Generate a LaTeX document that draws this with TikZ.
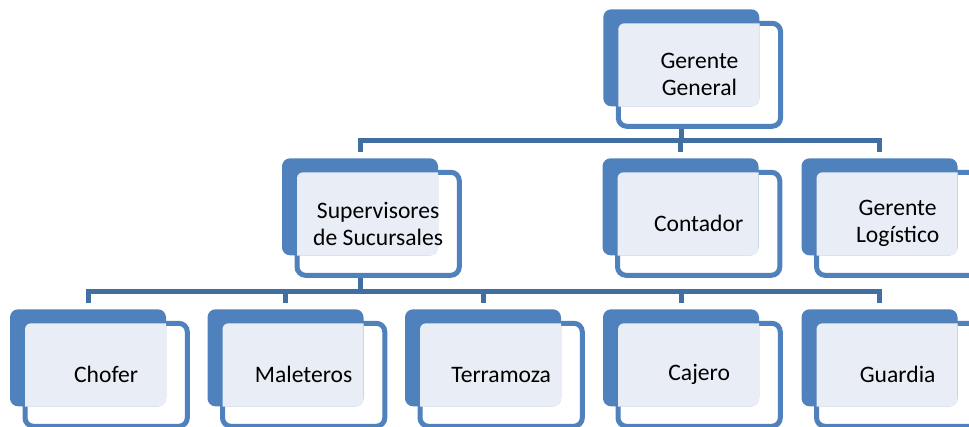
\documentclass[tikz,border=0pt]{standalone}
\usepackage{fontspec}
\setmainfont{Carlito}
\definecolor{boxblue}{RGB}{79,129,189}
\definecolor{busblue}{RGB}{66,111,162}
\definecolor{panelfill}{RGB}{233,238,246}
\tikzset{
  framebox/.style={draw=boxblue, line width=5pt, fill=white, rounded corners=8.5pt,
    minimum width=162.3pt, minimum height=103pt, inner sep=0pt, rectangle},
  backbox/.style={fill=boxblue, rounded corners=8pt, minimum width=156pt,
    minimum height=97pt, inner sep=0pt, rectangle},
  boxtext/.style={align=center, inner sep=0pt, font=\fontsize{23.6}{27}\selectfont},
  bus/.style={draw=busblue, line width=5pt}
}
\newcommand\orgbox[4]{%
  \node[framebox] (#1f) at (#2+96.15,#3+65.5) {};
  \node[backbox] (#1b) at (#2+78,#3+48.5) {};
  \begin{scope}
    \clip[rounded corners=8pt] (#1b.south west) rectangle (#1b.north east);
    \fill[panelfill, rounded corners=6pt] ([xshift=2.5pt,yshift=-2.5pt]#1f.north west)
      rectangle ([xshift=-2.5pt,yshift=2.5pt]#1f.south east);
  \end{scope}
  \node[boxtext] (#1t) at (#1f.center) {#4};
}
\begin{document}
\begin{tikzpicture}[x=1pt,y=-1pt]
\useasboundingbox (0,0) rectangle (969,426);
\coordinate (bus1) at (0,140.5);
\coordinate (bus2) at (0,291.5);
\begin{scope}
\orgbox{gg}{603.3}{9.3}{Gerente\\General}
\orgbox{sup}{282}{158.3}{Supervisores\\de Sucursales}
\orgbox{con}{602.5}{158.3}{Contador}
\orgbox{log}{801.5}{158.3}{Gerente\\Logístico}
\orgbox{cho}{10}{309.3}{Chofer}
\orgbox{mal}{207.5}{309.3}{Maleteros}
\orgbox{ter}{405}{309.3}{Terramoza}
\orgbox{caj}{603}{309.3}{Cajero}
\orgbox{gua}{801.5}{309.3}{Guardia}
\end{scope}
% connectors level 0 -> 1
\draw[bus] (ggb.center |- ggf.south) -- (ggb.center |- bus1);
\draw[bus] ([yshift=6pt]supb.north) -- (supb.north |- bus1) -- (logb.north |- bus1) -- ([yshift=6pt]logb.north);
\draw[bus] ([yshift=6pt]conb.north) -- (conb.north |- bus1);
% connectors level 1 -> 2
\draw[bus] (supb.center |- supf.south) -- (supb.center |- bus2);
\draw[bus] ([yshift=6pt]chob.north) -- (chob.north |- bus2) -- (guab.north |- bus2) -- ([yshift=6pt]guab.north);
\draw[bus] ([yshift=6pt]malb.north) -- (malb.north |- bus2);
\draw[bus] ([yshift=6pt]terb.north) -- (terb.north |- bus2);
\draw[bus] ([yshift=6pt]cajb.north) -- (cajb.north |- bus2);
\end{tikzpicture}
\end{document}
